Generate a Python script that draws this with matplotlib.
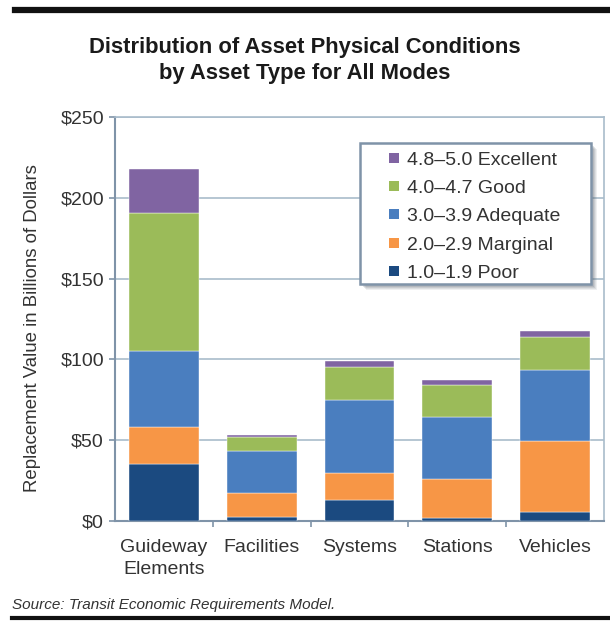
import matplotlib
matplotlib.use("Agg")
import matplotlib.pyplot as plt
from matplotlib.patches import Rectangle
from matplotlib.lines import Line2D
import numpy as np

categories = ["Guideway\nElements", "Facilities", "Systems", "Stations", "Vehicles"]
poor = [35.3, 2.7, 13.0, 1.7, 5.4]
marginal = [22.7, 14.5, 16.5, 24.1, 44.2]
adequate = [47.5, 26.4, 45.5, 38.8, 44.0]
good = [85.0, 8.5, 20.6, 19.7, 20.2]
excellent = [27.5, 1.2, 3.7, 3.1, 3.9]

series_labels = ["1.0\u20131.9 Poor", "2.0\u20132.9 Marginal", "3.0\u20133.9 Adequate",
                 "4.0\u20134.7 Good", "4.8\u20135.0 Excellent"]
series_values = [poor, marginal, adequate, good, excellent]
colors = ["#1b4a80", "#f79646", "#4a7ebf", "#9bbb59", "#8064a2"]

yticks = [0, 50, 100, 150, 200, 250]
ytick_labels = ["$0", "$50", "$100", "$150", "$200", "$250"]

plt.rcParams['font.family'] = ['Liberation Sans', 'DejaVu Sans']

W, H = 610, 622
fig = plt.figure(figsize=(W / 100, H / 100), dpi=100)
AX_L, AX_R, AX_T, AX_B = 115, 604, 117, 521
ax = fig.add_axes([AX_L / W, 1 - AX_B / H, (AX_R - AX_L) / W, (AX_B - AX_T) / H])


def ax_x(px):
    return (px - AX_L) / (AX_R - AX_L)


def ax_y(py):
    return (AX_B - py) / (AX_B - AX_T)


x = np.arange(len(categories))
bottom = np.zeros(len(categories))
for vals, col, lab in zip(series_values, colors, series_labels):
    ax.bar(x, vals, width=0.715, bottom=bottom, color=col, label=lab, zorder=3,
           edgecolor="white", linewidth=0.3)
    bottom += np.array(vals)

ax.set_xlim(-0.5, len(categories) - 0.5)
ax.set_ylim(0, 250)
ax.set_yticks(yticks)
ax.set_yticklabels(ytick_labels, fontsize=14, color="#333333")
ax.set_xticks(x)
ax.set_xticklabels(categories, fontsize=14, color="#333333", linespacing=1.35)
ax.tick_params(axis='x', length=0, pad=13)
ax.set_xticks(np.arange(0.5, len(categories) - 0.5, 1), minor=True)
ax.tick_params(axis='x', which='minor', length=4, color="#7f93a8", width=1.2)
ax.tick_params(axis='y', length=4, color="#7f93a8", width=1.2, pad=4)

ax.grid(axis='y', color="#a9bccb", linewidth=1.2, zorder=0)
for side in ['left', 'bottom']:
    ax.spines[side].set_color("#7f93a8")
    ax.spines[side].set_linewidth(1.5)
for side in ['top', 'right']:
    ax.spines[side].set_color("#a9bccb")
    ax.spines[side].set_linewidth(1.2)

fig.text(33 / W, 1 - 328 / H, "Replacement Value in Billions of Dollars", rotation=90,
         ha="center", va="center", fontsize=13.4, color="#333333")

# legend frame with soft shadow
lx0, lx1, ly0, ly1 = 360, 591, 143, 284
for off, a in [(6, 0.10), (5, 0.12), (4, 0.15), (3, 0.18)]:
    ax.add_patch(Rectangle((ax_x(lx0 + off), ax_y(ly1 + off)), ax_x(lx1) - ax_x(lx0),
                           ax_y(ly0) - ax_y(ly1), transform=ax.transAxes,
                           facecolor="#5a6570", alpha=a, edgecolor="none", zorder=8,
                           clip_on=False))
ax.add_patch(Rectangle((ax_x(lx0), ax_y(ly1)), ax_x(lx1) - ax_x(lx0), ax_y(ly0) - ax_y(ly1),
                       transform=ax.transAxes, facecolor="white", edgecolor="#7f93a8",
                       linewidth=1.8, zorder=9, clip_on=False))

handles = [Line2D([], [], marker="s", linestyle="none", markersize=7, color=c,
                  markeredgewidth=0) for c in colors]
leg = ax.legend(handles[::-1], series_labels[::-1], loc="upper left",
                bbox_to_anchor=(ax_x(387), ax_y(151)), fontsize=14, frameon=False,
                handlelength=0.7, handletextpad=0.35, labelspacing=0.55,
                borderpad=0, borderaxespad=0)
leg.set_zorder(10)
for t in leg.get_texts():
    t.set_color("#333333")

fig.text(0.5, 1 - 47 / H, "Distribution of Asset Physical Conditions", ha="center", va="center",
         fontsize=15.8, fontweight="bold", color="#1a1a1a")
fig.text(0.5, 1 - 73 / H, "by Asset Type for All Modes", ha="center", va="center",
         fontsize=15.8, fontweight="bold", color="#1a1a1a")

fig.text(12 / W, 1 - 605 / H, "Source: Transit Economic Requirements Model.", ha="left", va="center",
         fontsize=11, style="italic", color="#333333")

fig.add_artist(Line2D([15 / W, 1.0], [1 - 10 / H, 1 - 10 / H], color="#111111", linewidth=4.5))
fig.add_artist(Line2D([12 / W, 1.0], [1 - 618 / H, 1 - 618 / H], color="#111111", linewidth=3))

fig.savefig("out.png", dpi=100)
